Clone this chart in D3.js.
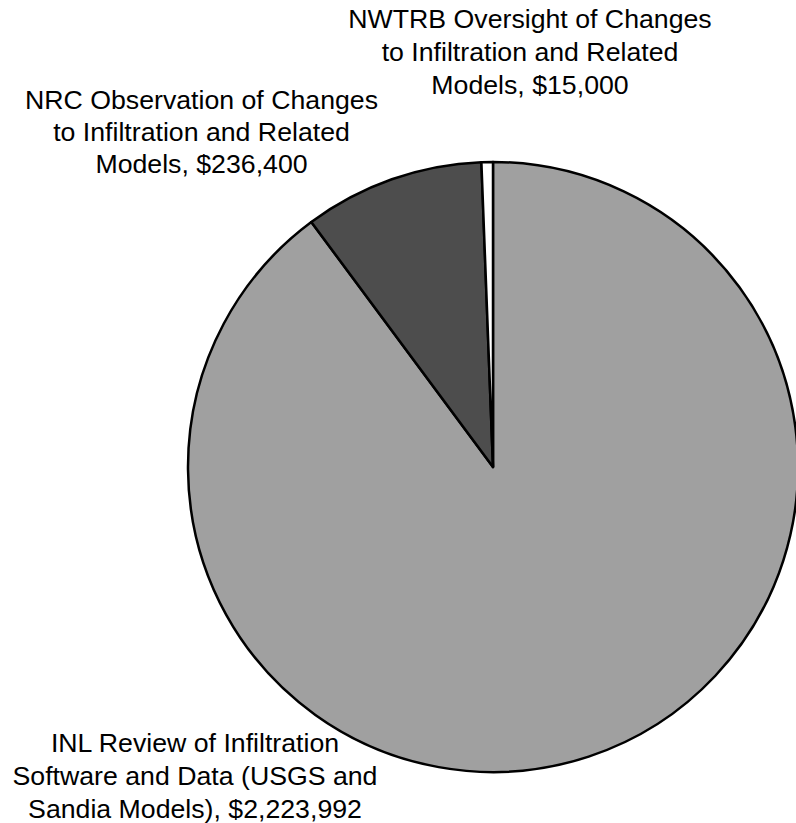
<!DOCTYPE html>
<html>
<head>
<meta charset="utf-8">
<script src="https://cdn.jsdelivr.net/npm/d3@7"></script>
<style>
  html, body { margin: 0; padding: 0; background: #ffffff; }
  svg { display: block; }
</style>
</head>
<body>
<svg id="chart" width="796" height="823"></svg>
<script>
const categories = [
  "INL Review of Infiltration Software and Data (USGS and Sandia Models)",
  "NRC Observation of Changes to Infiltration and Related Models",
  "NWTRB Oversight of Changes to Infiltration and Related Models"
];
const values = [2223992, 236400, 15000];
const labelLines = [
  ["INL Review of Infiltration", "Software and Data (USGS and", "Sandia Models), $2,223,992"],
  ["NRC Observation of Changes", "to Infiltration and Related", "Models, $236,400"],
  ["NWTRB Oversight of Changes", "to Infiltration and Related", "Models, $15,000"]
];
const colors = ["#a0a0a0", "#4d4d4d", "#ffffff"];

const svg = d3.select("#chart");
const cx = 493, cy = 467, R = 305;

const data = categories.map((c, i) => ({ name: c, value: values[i], lines: labelLines[i], color: colors[i] }));
const pie = d3.pie().sort(null).value(d => d.value);
const arc = d3.arc().innerRadius(0).outerRadius(R);

const g = svg.append("g").attr("transform", `translate(${cx},${cy})`);
g.selectAll("path").data(pie(data)).join("path")
  .attr("d", arc)
  .attr("fill", d => d.data.color)
  .attr("stroke", "#000")
  .attr("stroke-width", 2.5)
  .attr("stroke-linejoin", "round");

// label anchor positions (centre x, first baseline y, line spacing)
const labelPos = [[195, 751.5, 33], [201.5, 108.5, 32], [530, 28, 33]];
data.forEach((d, i) => {
  const t = svg.append("text")
    .attr("text-anchor", "middle")
    .attr("font-family", "'Liberation Sans', Arial, sans-serif")
    .attr("font-size", "26.7px")
    .attr("fill", "#000");
  d.lines.forEach((ln, j) => {
    t.append("tspan").attr("x", labelPos[i][0]).attr("y", labelPos[i][1] + j * labelPos[i][2]).text(ln);
  });
});
</script>
</body>
</html>
